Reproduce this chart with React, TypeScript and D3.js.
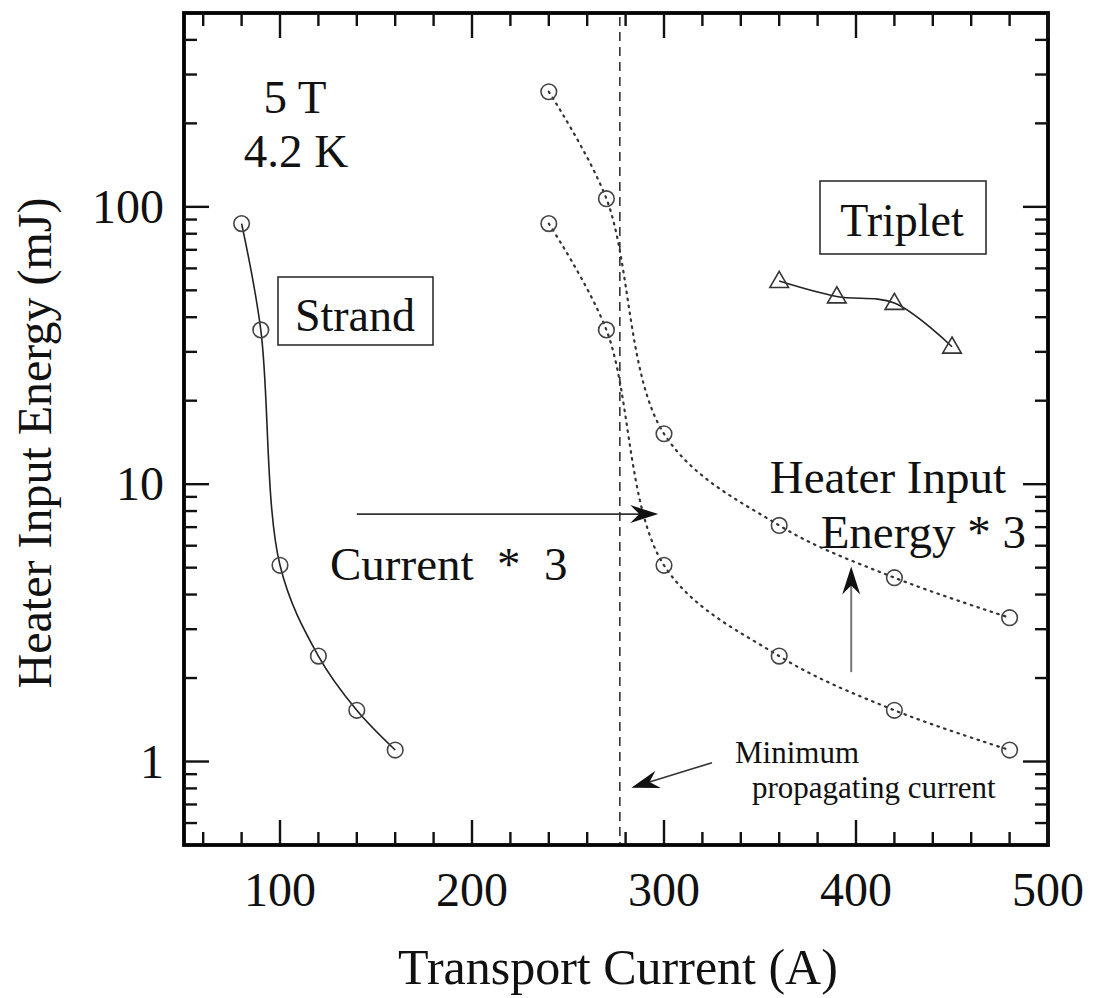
import React, { useEffect, useRef } from 'react';
import * as d3 from 'd3';

// Strand measurements: quench energy vs transport current at 5 T, 4.2 K
const strandCurrent = [80, 90, 100, 120, 140, 160];
const strandEnergy = [87, 36, 5.1, 2.4, 1.53, 1.1];

// Strand data re-plotted at three times the current
const scaledCurrent = [240, 270, 300, 360, 420, 480];
const scaledEnergy = [87, 36, 5.1, 2.4, 1.53, 1.1];
// ...and additionally at three times the heater energy
const scaledEnergyX3 = [260, 107, 15.2, 7.1, 4.6, 3.3];

// Triplet cable measurements
const tripletCurrent = [360, 390, 420, 450];
const tripletEnergy = [54, 47.5, 45, 31.3];

const minPropagatingCurrent = 277;

const xMajorTicks = [100, 200, 300, 400, 500];
const xMinorTicks = d3.range(60, 500, 20).filter((v) => v % 100 !== 0);
const yMajorTicks = [1, 10, 100];
const yMinorTicks = [0.6, 0.7, 0.8, 0.9, 2, 3, 4, 5, 6, 7, 8, 9, 20, 30, 40, 50, 60, 70, 80, 90, 200, 300, 400];

const W = 1094;
const H = 998;
const FONT = '"Liberation Serif", "Times New Roman", serif';

export default function App() {
  const ref = useRef<SVGSVGElement | null>(null);

  useEffect(() => {
    const svg = d3.select(ref.current);
    svg.selectAll('*').remove();

    const left = 184, right = 1048, top = 13, bottom = 845;
    const x = d3.scaleLinear().domain([50, 500]).range([left, right]);
    const y = d3.scaleLog().domain([0.5, 500]).range([bottom, top]);

    const g = svg.append('g');

    // plot frame
    g.append('rect')
      .attr('x', left).attr('y', top)
      .attr('width', right - left).attr('height', bottom - top)
      .attr('fill', 'none').attr('stroke', '#000').attr('stroke-width', 3.8);

    const major = 25, minor = 13;
    const tickColor = '#111';
    const tw = 2.4;
    // x ticks, bottom and top, pointing inward
    const xt = [...xMajorTicks.map((v) => ({ v, l: major })), ...xMinorTicks.map((v) => ({ v, l: minor }))];
    xt.forEach(({ v, l }) => {
      g.append('line').attr('x1', x(v)).attr('x2', x(v)).attr('y1', bottom).attr('y2', bottom - l)
        .attr('stroke', tickColor).attr('stroke-width', tw);
      g.append('line').attr('x1', x(v)).attr('x2', x(v)).attr('y1', top).attr('y2', top + l)
        .attr('stroke', tickColor).attr('stroke-width', tw);
    });
    // y ticks, left and right
    const yt = [...yMajorTicks.map((v) => ({ v, l: major })), ...yMinorTicks.map((v) => ({ v, l: minor }))];
    yt.forEach(({ v, l }) => {
      g.append('line').attr('y1', y(v)).attr('y2', y(v)).attr('x1', left).attr('x2', left + l)
        .attr('stroke', tickColor).attr('stroke-width', tw);
      g.append('line').attr('y1', y(v)).attr('y2', y(v)).attr('x1', right).attr('x2', right - l)
        .attr('stroke', tickColor).attr('stroke-width', tw);
    });

    // tick labels
    xMajorTicks.forEach((v) => {
      g.append('text').attr('x', x(v)).attr('y', 906).attr('text-anchor', 'middle')
        .attr('font-family', FONT).attr('font-size', 48).attr('fill', '#111').text(String(v));
    });
    yMajorTicks.forEach((v) => {
      g.append('text').attr('x', 164).attr('y', y(v) + 16).attr('text-anchor', 'end')
        .attr('font-family', FONT).attr('font-size', 48).attr('fill', '#111').text(String(v));
    });

    // axis titles
    g.append('text').attr('x', (left + right) / 2 + 2).attr('y', 984).attr('text-anchor', 'middle')
      .attr('font-family', FONT).attr('font-size', 50).attr('fill', '#111').text('Transport Current (A)');
    g.append('text').attr('transform', `translate(51, ${(top + bottom) / 2 + 14}) rotate(-90)`)
      .attr('text-anchor', 'middle').attr('font-family', FONT).attr('font-size', 48).attr('fill', '#111')
      .text('Heater Input Energy (mJ)');

    // minimum propagating current
    g.append('line').attr('x1', x(minPropagatingCurrent)).attr('x2', x(minPropagatingCurrent))
      .attr('y1', top + 4).attr('y2', bottom - 2)
      .attr('stroke', '#333').attr('stroke-width', 1.6).attr('stroke-dasharray', '9,6');

    const line = d3.line<[number, number]>()
      .x((d) => x(d[0])).y((d) => y(d[1]))
      .curve(d3.curveCatmullRom.alpha(0.5));

    const zip = (a: number[], b: number[]) => a.map((v, i) => [v, b[i]] as [number, number]);

    // strand curve (solid)
    g.append('path').attr('d', line(zip(strandCurrent, strandEnergy)))
      .attr('fill', 'none').attr('stroke', '#222').attr('stroke-width', 1.6);
    // scaled curves (dotted)
    [zip(scaledCurrent, scaledEnergy), zip(scaledCurrent, scaledEnergyX3)].forEach((pts) => {
      g.append('path').attr('d', line(pts))
        .attr('fill', 'none').attr('stroke', '#333').attr('stroke-width', 2.2)
        .attr('stroke-dasharray', '1.5,5.5').attr('stroke-linecap', 'round');
    });
    // triplet curve (solid)
    g.append('path').attr('d', line(zip(tripletCurrent, tripletEnergy)))
      .attr('fill', 'none').attr('stroke', '#222').attr('stroke-width', 1.6);

    // circle markers
    const circles = [
      ...zip(strandCurrent, strandEnergy),
      ...zip(scaledCurrent, scaledEnergy),
      ...zip(scaledCurrent, scaledEnergyX3),
    ];
    circles.forEach(([cx, cy]) => {
      g.append('circle').attr('cx', x(cx)).attr('cy', y(cy)).attr('r', 7.8)
        .attr('fill', 'none').attr('stroke', '#444').attr('stroke-width', 1.6);
    });
    // triangle markers
    const tri = d3.symbol().type(d3.symbolTriangle).size(150);
    zip(tripletCurrent, tripletEnergy).forEach(([cx, cy]) => {
      g.append('path').attr('d', tri()).attr('transform', `translate(${x(cx)},${y(cy) + 1})`)
        .attr('fill', 'none').attr('stroke', '#333').attr('stroke-width', 1.6);
    });

    // arrows
    const arrow = (x1: number, y1: number, x2: number, y2: number, color: string, width: number) => {
      const X1 = x(x1), Y1 = y(y1), X2 = x(x2), Y2 = y(y2);
      const ang = (Math.atan2(Y2 - Y1, X2 - X1) * 180) / Math.PI;
      const len = 28;
      g.append('line').attr('x1', X1).attr('y1', Y1)
        .attr('x2', X2 - Math.cos((ang * Math.PI) / 180) * 18)
        .attr('y2', Y2 - Math.sin((ang * Math.PI) / 180) * 18)
        .attr('stroke', color).attr('stroke-width', width);
      g.append('path').attr('d', `M0,0 L${-len},-9 L${-len + 9},0 L${-len},9 Z`)
        .attr('transform', `translate(${X2},${Y2}) rotate(${ang})`)
        .attr('fill', '#111');
    };
    arrow(140, 7.8, 297, 7.8, '#333', 1.8);
    arrow(397.5, 2.1, 397.5, 5.05, '#777', 2);
    arrow(325, 0.99, 283, 0.805, '#333', 1.6);

    // text annotations
    const txt = (tx: number, ty: number, s: string, size: number, anchor = 'start') =>
      g.append('text').attr('x', tx).attr('y', ty).attr('text-anchor', anchor)
        .attr('font-family', FONT).attr('font-size', size).attr('fill', '#111').text(s);

    txt(295, 113, '5 T', 47, 'middle');
    txt(296, 167, '4.2 K', 47, 'middle');

    g.append('rect').attr('x', 278).attr('y', 277).attr('width', 155).attr('height', 68)
      .attr('fill', 'none').attr('stroke', '#222').attr('stroke-width', 1.5);
    txt(355, 331, 'Strand', 46, 'middle');

    g.append('rect').attr('x', 820).attr('y', 181).attr('width', 166).attr('height', 73)
      .attr('fill', 'none').attr('stroke', '#222').attr('stroke-width', 1.5);
    txt(902, 236, 'Triplet', 46, 'middle');

    txt(1006, 493, 'Heater Input', 47, 'end');
    txt(1026, 548, 'Energy * 3', 47, 'end');

    g.append('text').attr('x', 330).attr('y', 580)
      .attr('font-family', FONT).attr('font-size', 47).attr('fill', '#111')
      .attr('xml:space', 'preserve').style('white-space', 'pre').text('Current  *  3');

    txt(735, 763, 'Minimum', 31);
    txt(752, 798, 'propagating current', 31);
  }, []);

  return (
    <svg ref={ref} width={W} height={H} viewBox={`0 0 ${W} ${H}`}
      style={{ position: 'absolute', left: 0, top: 0, background: '#fff' }} />
  );
}
